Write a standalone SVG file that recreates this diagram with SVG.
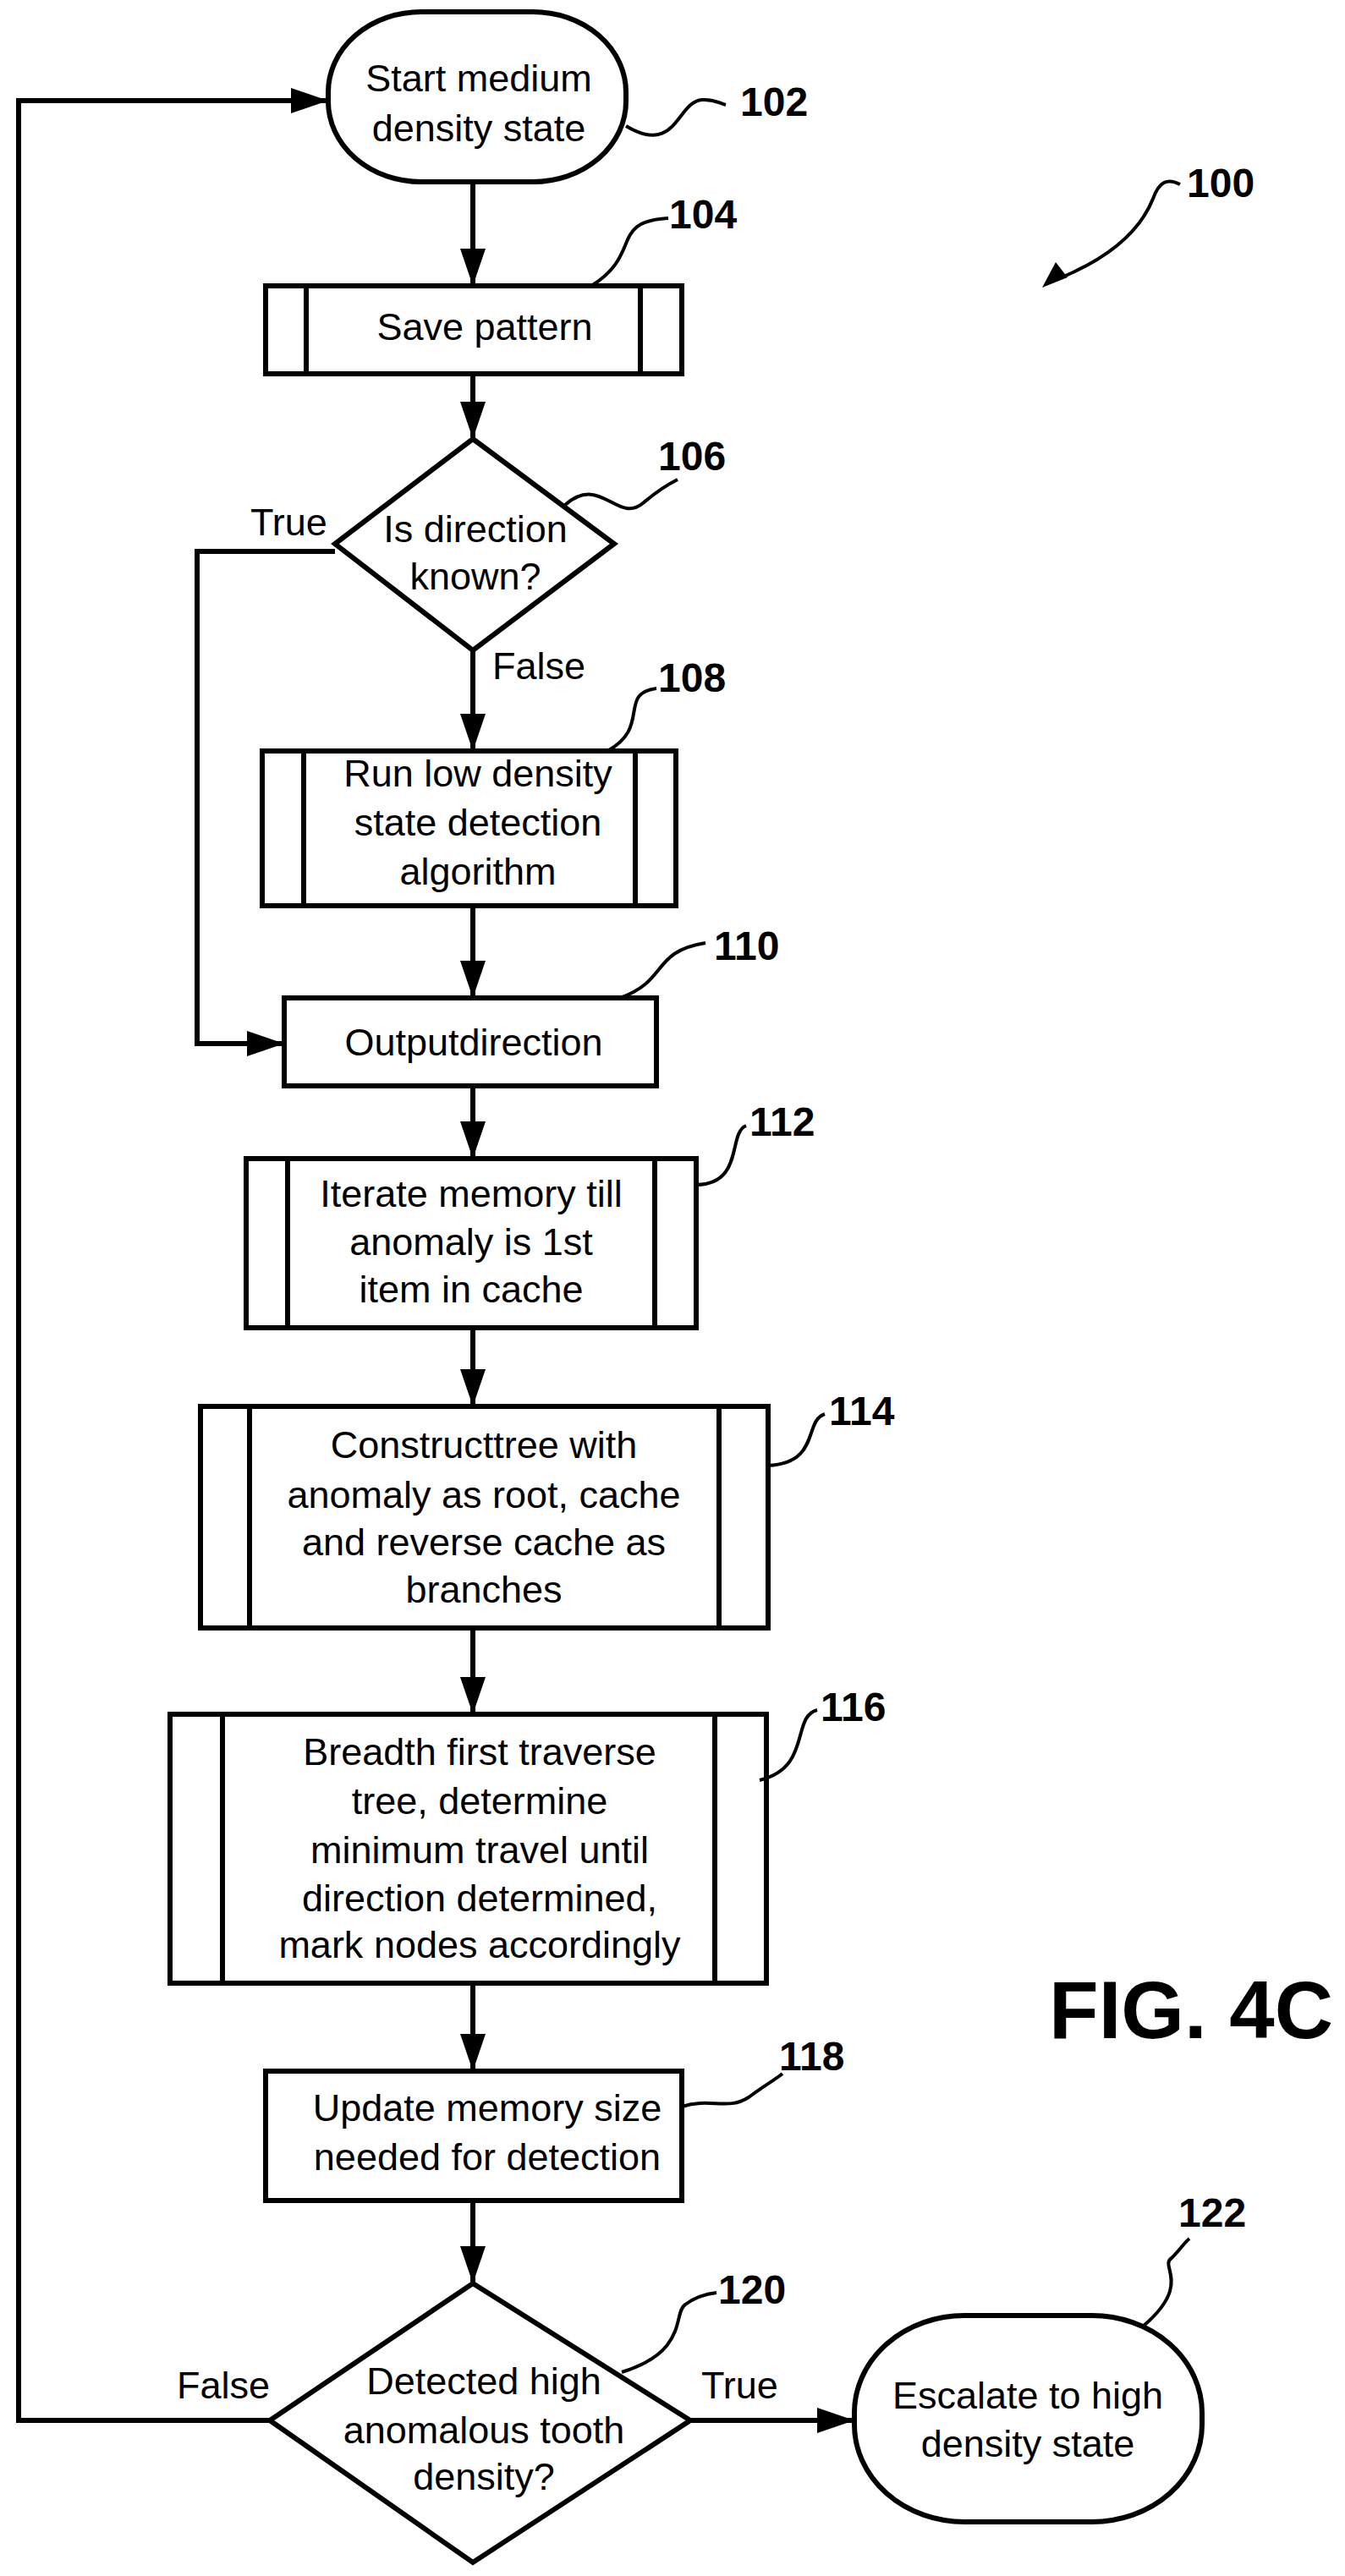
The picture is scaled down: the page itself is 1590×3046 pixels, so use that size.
<svg xmlns="http://www.w3.org/2000/svg" width="1590" height="3046" viewBox="0 0 1590 3046">
<style>
.s{fill:#fff;stroke:#000;stroke-width:6}
.l{fill:none;stroke:#000;stroke-width:6}
.ld{fill:none;stroke:#000;stroke-width:4}
text{font-family:"Liberation Sans",Arial,sans-serif;font-size:45px;fill:#000}
.c{text-anchor:middle}
.n{font-weight:bold;font-size:48px}
.f{font-weight:bold;font-size:96px}
</style>
<defs>
<marker id="a" markerUnits="userSpaceOnUse" markerWidth="44" markerHeight="30" refX="42" refY="15" orient="auto"><path d="M0,0 L44,15 L0,30 Z" fill="#000"/></marker>
</defs>
<rect width="1590" height="3046" fill="#fff"/>
<g id="connectors">
<path class="l" d="M559,215 V336" marker-end="url(#a)"/>
<path class="l" d="M559,442 V517" marker-end="url(#a)"/>
<path class="l" d="M559,769 V886" marker-end="url(#a)"/>
<path class="l" d="M559,1071 V1178" marker-end="url(#a)"/>
<path class="l" d="M559,1284 V1368" marker-end="url(#a)"/>
<path class="l" d="M559,1570 V1661" marker-end="url(#a)"/>
<path class="l" d="M559,1925 V2025" marker-end="url(#a)"/>
<path class="l" d="M559,2345 V2447" marker-end="url(#a)"/>
<path class="l" d="M559,2602 V2698" marker-end="url(#a)"/>
<path class="l" d="M396,652 H233 V1234 H334" marker-end="url(#a)"/>
<path class="l" d="M319,2862 H22 V119 H386" marker-end="url(#a)"/>
<path class="l" d="M816,2862 H1008" marker-end="url(#a)"/>
<text x="296" y="633">True</text>
<text x="582" y="803">False</text>
<text x="209" y="2836">False</text>
<text x="829" y="2836">True</text>
</g>
<g id="n102">
<rect class="s" x="388" y="14" width="352" height="201" rx="110" ry="95"/>
<text class="c" x="566" y="108">Start medium</text>
<text class="c" x="566" y="167">density state</text>
<path class="ld" d="M740,149 C800,185 800,120 830,118 C845,117 850,122 858,124"/>
<text class="n" x="875" y="137">102</text>
</g>
<g id="n104">
<rect class="s" x="314" y="338" width="492" height="104"/>
<path class="l" d="M362,338 V442 M757,338 V442"/>
<text class="c" x="573" y="402">Save pattern</text>
<path class="ld" d="M699,338 C760,300 720,262 790,258"/>
<text class="n" x="791" y="270">104</text>
</g>
<g id="n106">
<path class="s" d="M559,519 L726,643 L559,769 L396,643 Z"/>
<text class="c" x="562" y="641">Is direction</text>
<text class="c" x="562" y="697">known?</text>
<path class="ld" d="M668,597 C710,560 730,620 760,595 C780,578 795,570 801,567"/>
<text class="n" x="778" y="556">106</text>
</g>
<g id="n108">
<rect class="s" x="310" y="888" width="489" height="183"/>
<path class="l" d="M359,888 V1071 M751,888 V1071"/>
<text class="c" x="565" y="930">Run low density</text>
<text class="c" x="565" y="988">state detection</text>
<text class="c" x="565" y="1046">algorithm</text>
<path class="ld" d="M718,888 C770,860 730,820 776,814"/>
<text class="n" x="778" y="818">108</text>
</g>
<g id="n110">
<rect class="s" x="336" y="1180" width="440" height="104"/>
<text class="c" x="560" y="1248">Outputdirection</text>
<path class="ld" d="M733,1180 C790,1160 770,1125 834,1115"/>
<text class="n" x="844" y="1135">110</text>
</g>
<g id="n112">
<rect class="s" x="291" y="1370" width="532" height="200"/>
<path class="l" d="M340,1370 V1570 M774,1370 V1570"/>
<text class="c" x="557" y="1427">Iterate memory till</text>
<text class="c" x="557" y="1484">anomaly is 1st</text>
<text class="c" x="557" y="1540">item in cache</text>
<path class="ld" d="M823,1401 C880,1400 860,1340 882,1331"/>
<text class="n" x="886" y="1343">112</text>
</g>
<g id="n114">
<rect class="s" x="237" y="1663" width="671" height="262"/>
<path class="l" d="M295,1663 V1925 M850,1663 V1925"/>
<text class="c" x="572" y="1724">Constructtree with</text>
<text class="c" x="572" y="1783">anomaly as root, cache</text>
<text class="c" x="572" y="1839">and reverse cache as</text>
<text class="c" x="572" y="1895">branches</text>
<path class="ld" d="M908,1733 C970,1730 950,1680 975,1672"/>
<text class="n" x="980" y="1685">114</text>
</g>
<g id="n116">
<rect class="s" x="201" y="2027" width="705" height="318"/>
<path class="l" d="M263,2027 V2345 M845,2027 V2345"/>
<text class="c" x="567" y="2087">Breadth first traverse</text>
<text class="c" x="567" y="2145">tree, determine</text>
<text class="c" x="567" y="2203">minimum travel until</text>
<text class="c" x="567" y="2260">direction determined,</text>
<text class="c" x="567" y="2315">mark nodes accordingly</text>
<path class="ld" d="M898,2105 C960,2090 935,2030 966,2022"/>
<text class="n" x="970" y="2035">116</text>
</g>
<text class="f" x="1240" y="2410">FIG. 4C</text>
<g id="n118">
<rect class="s" x="314" y="2449" width="492" height="153"/>
<text class="c" x="576" y="2508">Update memory size</text>
<text class="c" x="576" y="2566">needed for detection</text>
<path class="ld" d="M806,2491 C840,2480 860,2496 885,2480 C905,2465 915,2460 925,2452"/>
<text class="n" x="921" y="2448">118</text>
</g>
<g id="n120">
<path class="s" d="M559,2700 L816,2862 L559,3030 L319,2862 Z"/>
<text class="c" x="572" y="2831">Detected high</text>
<text class="c" x="572" y="2889">anomalous tooth</text>
<text class="c" x="572" y="2944">density?</text>
<path class="ld" d="M735,2805 C815,2780 795,2735 810,2725 C825,2714 838,2712 847,2711"/>
<text class="n" x="849" y="2724">120</text>
</g>
<g id="n100">
<path class="ld" d="M1395,218 C1380,210 1370,215 1363,235 C1345,280 1300,310 1250,330"/>
<path d="M1232,340 L1248,310 L1262,328 Z" fill="#000"/>
<text class="n" x="1403" y="233">100</text>
</g>
<g id="n122">
<rect class="s" x="1010" y="2738" width="411" height="244" rx="130" ry="115"/>
<text class="c" x="1215" y="2848">Escalate to high</text>
<text class="c" x="1215" y="2905">density state</text>
<path class="ld" d="M1352,2750 C1410,2700 1370,2680 1385,2670 C1395,2660 1400,2652 1406,2647"/>
<text class="n" x="1393" y="2633">122</text>
</g>
</svg>
